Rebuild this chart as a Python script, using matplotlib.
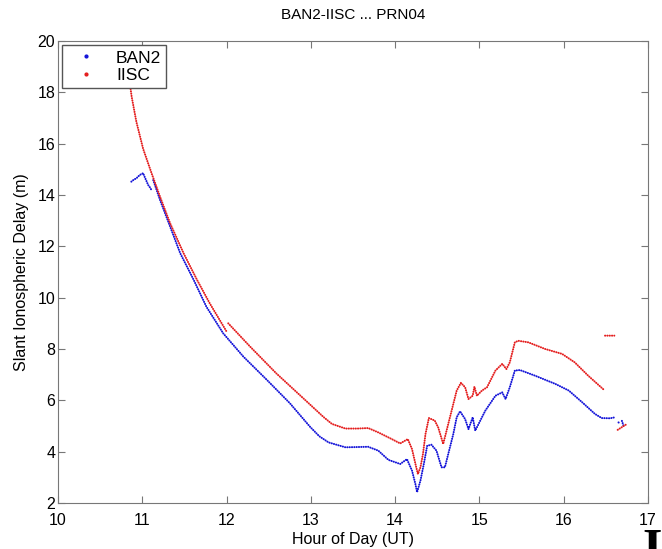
import numpy as np
import matplotlib
matplotlib.use('Agg')
from matplotlib import pyplot as plt
from matplotlib.lines import Line2D

plt.rcParams['font.family'] = ['Liberation Sans', 'DejaVu Sans']

# IISC slant delay (m) vs hour (UT), nan = data gap
iisc_hour = [10.85, 10.874, 10.93, 11.01, 11.11, 11.21, 11.33, 11.49, 11.65, 11.80, 12.00, np.nan,
             12.02, 12.28, 12.59, 12.91, 13.15, 13.25, 13.41, 13.55, 13.68, 13.80, 13.96, 14.06,
             14.15, 14.20, 14.25, 14.27, 14.30, 14.33, 14.36, 14.40, 14.47, 14.51, 14.57, 14.69,
             14.73, 14.78, 14.83, 14.87, 14.92, 14.94, 14.97, 15.03, 15.09, 15.19, 15.27, 15.32,
             15.36, 15.42, 15.46, 15.58, 15.78, 15.98, 16.13, 16.29, 16.48, np.nan,
             16.49, 16.60, np.nan, 16.64, 16.75]
iisc_delay = [18.4, 17.83, 16.85, 15.80, 14.85, 13.94, 12.90, 11.73, 10.69, 9.78, 8.68, np.nan,
              9.0, 8.09, 7.05, 6.08, 5.35, 5.08, 4.90, 4.90, 4.92, 4.75, 4.49, 4.32,
              4.49, 4.10, 3.39, 3.13, 3.39, 3.91, 4.69, 5.31, 5.21, 4.95, 4.30, 5.86,
              6.38, 6.68, 6.51, 6.05, 6.18, 6.53, 6.18, 6.38, 6.51, 7.16, 7.42, 7.22,
              7.48, 8.26, 8.32, 8.26, 8.0, 7.81, 7.48, 6.96, 6.40, np.nan,
              8.52, 8.52, np.nan, 4.85, 5.08]

# BAN2 slant delay (m) vs hour (UT)
ban2_hour = [10.87, 10.90, 10.93, 10.97, 11.01, 11.03, 11.07, 11.09, 11.11, np.nan,
             11.13, 11.21, 11.33, 11.45, 11.61, 11.76, 11.96, 12.20, 12.48, 12.75, 12.99, 13.10,
             13.21, 13.41, 13.55, 13.68, 13.80, 13.92, 14.06, 14.14, 14.20, 14.24, 14.26, 14.30,
             14.34, 14.38, 14.43, 14.49, 14.55, 14.59, 14.63, 14.69, 14.73, 14.77, 14.83, 14.87,
             14.92, 14.95, 15.01, 15.07, 15.19, 15.27, 15.31, 15.36, 15.42, 15.48, 15.66, 15.90,
             16.06, 16.22, 16.37, 16.45, 16.55, 16.61, np.nan, 16.65, 16.655, np.nan, 16.69, 16.71]
ban2_delay = [14.52, 14.60, 14.65, 14.78, 14.85, 14.69, 14.39, 14.30, 14.19, np.nan,
              14.58, 13.81, 12.77, 11.73, 10.69, 9.65, 8.61, 7.70, 6.79, 5.89, 4.97, 4.60,
              4.36, 4.17, 4.18, 4.19, 4.04, 3.68, 3.52, 3.71, 3.26, 2.74, 2.42, 2.87,
              3.52, 4.23, 4.27, 4.04, 3.39, 3.39, 3.91, 4.69, 5.34, 5.57, 5.27, 4.88,
              5.34, 4.82, 5.21, 5.60, 6.18, 6.31, 6.05, 6.51, 7.16, 7.18, 6.96, 6.64,
              6.38, 5.92, 5.47, 5.31, 5.30, 5.34, np.nan, 5.14, 5.12, np.nan, 5.2, 5.0]

xticks = [10, 11, 12, 13, 14, 15, 16, 17]
yticks = [2, 4, 6, 8, 10, 12, 14, 16, 18, 20]

blue = '#1414d8'
red = '#e41e1e'

fig = plt.figure(figsize=(6.62, 5.49), dpi=100)
ax = fig.add_axes([0.0876, 0.0838, 0.8913, 0.8415])

dots = dict(linestyle=(0, (0.1, 1.05)), linewidth=1.45, dash_capstyle='round')
ax.plot(ban2_hour, ban2_delay, color=blue, **dots)
ax.plot(iisc_hour, iisc_delay, color=red, **dots)

ax.set_xlim(10, 17)
ax.set_ylim(2, 20)
ax.set_xticks(xticks)
ax.set_yticks(yticks)
ax.tick_params(direction='in', top=True, right=True, length=5, labelsize=11.5,
               color='#777777', pad=2)
ax.tick_params(axis='x', pad=7)
for s in ax.spines.values():
    s.set_color('#777777')

ax.set_title('BAN2-IISC ... PRN04', fontsize=11, pad=16)
ax.set_xlabel('Hour of Day (UT)', fontsize=11.5, labelpad=3)
ax.set_ylabel('Slant Ionospheric Delay (m)', fontsize=11.5, labelpad=6)

handles = [Line2D([], [], color=blue, marker='.', markersize=4, linestyle='none'),
           Line2D([], [], color=red, marker='.', markersize=4, linestyle='none')]
leg = ax.legend(handles, ['BAN2', 'IISC'], loc='upper left', bbox_to_anchor=(0.007, 0.991),
                borderaxespad=0, fancybox=False, framealpha=1, edgecolor='#555555',
                fontsize=12.5, handlelength=2.2, handletextpad=0.6, borderpad=0.3,
                labelspacing=0.15)
leg.get_frame().set_linewidth(1)

# stray glyph from the source page, cut by the bottom edge
fig.text(0.985, 0.038, 'I', family='Liberation Serif', fontweight='bold', fontsize=36,
         ha='center', va='top')

fig.savefig('out.png', dpi=100)
